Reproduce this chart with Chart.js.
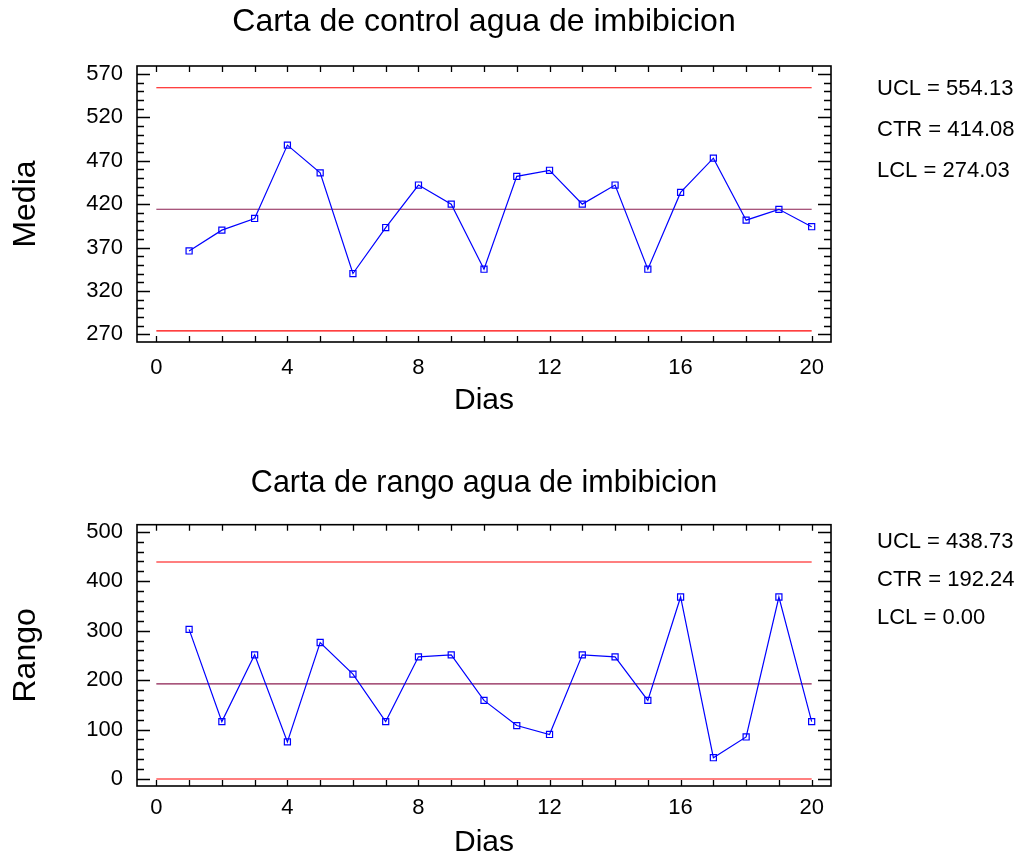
<!DOCTYPE html>
<html>
<head>
<meta charset="utf-8">
<title>Carta de control agua de imbibicion</title>
<script src="https://cdn.jsdelivr.net/npm/chart.js@4.4.0/dist/chart.umd.min.js"></script>
<style>
  html, body { margin: 0; padding: 0; background: #fff; overflow: hidden; }
  canvas { position: absolute; left: 0; }
  #mediaChart { top: 0; }
  #rangoChart { top: 430px; }
</style>
</head>
<body>
<canvas id="mediaChart" width="1021" height="430"></canvas>
<canvas id="rangoChart" width="1021" height="429"></canvas>
<script>
// values
const dias = [1, 2, 3, 4, 5, 6, 7, 8, 9, 10, 11, 12, 13, 14, 15, 16, 17, 18, 19, 20];
const media = [366, 390, 403.5, 488, 456, 340, 393, 442, 420, 345, 452, 459, 420, 442, 345, 433.5, 473, 401.5, 414, 394];
const rango = [302.5, 116, 251, 75, 276, 212, 116, 247, 251, 159, 108, 90, 251, 247, 159, 368, 43, 85, 368, 116];

// control limits: UCL, CTR, LCL
const limitNames = ['UCL', 'CTR', 'LCL'];
const mediaLimits = [554.13, 414.08, 274.03];
const rangoLimits = [438.73, 192.24, 0.00];

// tick labels
const diasTicks = [0, 4, 8, 12, 16, 20];
const mediaTicks = [270, 320, 370, 420, 470, 520, 570];
const rangoTicks = [0, 100, 200, 300, 400, 500];

const FONT = "'Liberation Sans', Arial, sans-serif";
const limitColors = ['#ff0000', '#8b1e50', '#ff0000'];

// draws the box, the inward tick marks and the limit text on the right
const frameTicks = {
    id: 'frameTicks',
    afterDatasetsDraw(chart, args, opts) {
        const { ctx, chartArea: a, scales: { x, y } } = chart;
        ctx.save();
        ctx.strokeStyle = '#000';
        ctx.lineWidth = 1.3;
        ctx.beginPath();
        for (let d = 0; d <= 20; d++) {
            const px = Math.round(x.getPixelForValue(d)) + 0.5;
            ctx.moveTo(px, a.top);
            ctx.lineTo(px, a.top + 6);
            ctx.moveTo(px, a.bottom);
            ctx.lineTo(px, a.bottom - 6);
        }
        const n = Math.round((opts.last - opts.first) / opts.minor);
        for (let i = 0; i <= n; i++) {
            const v = opts.first + i * opts.minor;
            const len = (i % opts.perMajor === 0) ? 13 : 7;
            const py = Math.round(y.getPixelForValue(v)) + 0.5;
            ctx.moveTo(a.left, py);
            ctx.lineTo(a.left + len, py);
            ctx.moveTo(a.right, py);
            ctx.lineTo(a.right - len, py);
        }
        ctx.stroke();
        ctx.lineWidth = 1.6;
        ctx.strokeRect(a.left, a.top, a.width, a.height);

        ctx.fillStyle = '#000';
        ctx.font = '22px ' + FONT;
        ctx.textAlign = 'left';
        ctx.textBaseline = 'middle';
        opts.limits.forEach((v, i) => {
            ctx.fillText(limitNames[i] + ' = ' + v.toFixed(2), a.right + 46, opts.textY[i]);
        });
        ctx.restore();
    }
};

function limitDataset(value, i) {
    return {
        data: [{ x: 0, y: value }, { x: 20, y: value }],
        borderColor: limitColors[i],
        borderWidth: 1.2,
        pointRadius: 0,
        order: 2
    };
}

function createChart(id, cfg) {
    const ctx = document.getElementById(id).getContext('2d');
    return new Chart(ctx, {
        type: 'line',
        data: {
            datasets: [
                {
                    data: dias.map((d, i) => ({ x: d, y: cfg.values[i] })),
                    borderColor: '#0000ff',
                    borderWidth: 1.2,
                    pointStyle: 'rect',
                    pointRadius: 4.3,
                    pointBorderColor: '#0000ff',
                    pointBackgroundColor: 'rgba(0,0,0,0)',
                    pointBorderWidth: 1.2,
                    tension: 0,
                    order: 1
                },
                ...cfg.limits.map(limitDataset)
            ]
        },
        options: {
            responsive: false,
            animation: false,
            layout: { padding: { left: 0, right: 190, top: 0, bottom: 0 } },
            scales: {
                x: {
                    type: 'linear',
                    min: -0.59,
                    max: 20.59,
                    afterBuildTicks: s => { s.ticks = diasTicks.map(v => ({ value: v })); },
                    afterFit: s => { s.height = cfg.xHeight; },
                    grid: { display: false, drawTicks: false },
                    border: { display: false },
                    ticks: { color: '#000', font: { family: FONT, size: 22 }, padding: cfg.xPad, maxRotation: 0 },
                    title: {
                        display: true,
                        text: 'Dias',
                        color: '#000',
                        font: { family: FONT, size: 30, lineHeight: 1 },
                        padding: { top: 0, bottom: cfg.xTitlePad }
                    }
                },
                y: {
                    type: 'linear',
                    min: cfg.yMin,
                    max: cfg.yMax,
                    afterBuildTicks: s => { s.ticks = cfg.ticks.map(v => ({ value: v })); },
                    afterFit: s => { s.width = 137; },
                    grid: { display: false, drawTicks: false },
                    border: { display: false },
                    ticks: { color: '#000', font: { family: FONT, size: 22 }, padding: 14 },
                    title: {
                        display: true,
                        text: cfg.yTitle,
                        color: '#000',
                        font: { family: FONT, size: 32, lineHeight: 1 },
                        padding: { top: 10, bottom: 0 }
                    }
                }
            },
            plugins: {
                legend: { display: false },
                tooltip: { enabled: false },
                title: {
                    display: true,
                    fullSize: false,
                    text: cfg.title,
                    color: '#000',
                    font: { family: FONT, size: cfg.titleSize, weight: 'normal', lineHeight: 1.2 },
                    padding: cfg.titlePad
                },
                frameTicks: {
                    first: cfg.ticks[0],
                    last: cfg.ticks[cfg.ticks.length - 1],
                    minor: cfg.minor,
                    perMajor: cfg.perMajor,
                    limits: cfg.limits,
                    textY: cfg.textY
                }
            }
        },
        plugins: [frameTicks]
    });
}

window.onload = function() {
    createChart('mediaChart', {
        title: 'Carta de control agua de imbibicion',
        titleSize: 32,
        titlePad: { top: 3, bottom: 24.6 },
        yTitle: 'Media',
        values: media,
        limits: mediaLimits,
        ticks: mediaTicks,
        yMin: 261.1,
        yMax: 579.2,
        minor: 10,
        perMajor: 5,
        xHeight: 88,
        xPad: 13,
        xTitlePad: 14,
        textY: [89, 130, 171]
    });
    createChart('rangoChart', {
        title: 'Carta de rango agua de imbibicion',
        titleSize: 30.5,
        titlePad: { top: 35.4, bottom: 22.7 },
        yTitle: 'Rango',
        values: rango,
        limits: rangoLimits,
        ticks: rangoTicks,
        yMin: -14.2,
        yMax: 514.2,
        minor: 20,
        perMajor: 5,
        xHeight: 73,
        xPad: 9,
        xTitlePad: 1,
        textY: [112, 150, 188]
    });
};
</script>
</body>
</html>
